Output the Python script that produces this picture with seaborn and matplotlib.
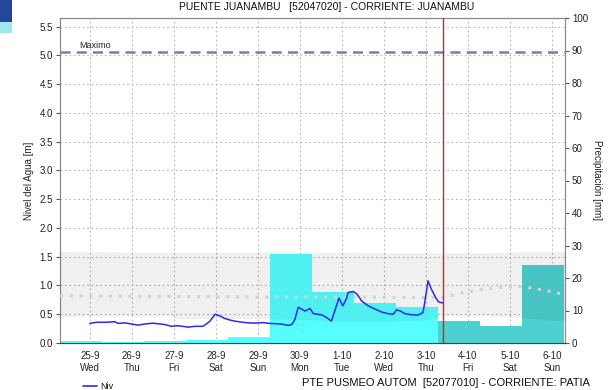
import numpy as np
import matplotlib
matplotlib.use("Agg")
import matplotlib.pyplot as plt
import seaborn as sns
from matplotlib.patches import Rectangle

sns.set_style("white")
plt.rcParams["font.family"] = ["Liberation Sans", "DejaVu Sans"]

# ---- data (x in days since 25-9 00:00) ----
day_labels = ["25-9", "26-9", "27-9", "28-9", "29-9", "30-9",
              "1-10", "2-10", "3-10", "4-10", "5-10", "6-10"]
weekdays = ["Wed", "Thu", "Fri", "Sat", "Sun", "Mon",
            "Tue", "Wed", "Thu", "Fri", "Sat", "Sun"]

# daily rainfall [mm], each window 07:00 -> 07:00
rain_obs_center = [-0.21, 0.79, 1.79, 2.79, 3.79, 4.79, 5.79, 6.79, 7.79]
rain_obs = [0.6, 0.4, 0.5, 1.0, 1.8, 27.4, 15.8, 12.4, 11.2]
rain_fc_center = [8.79, 9.79, 10.79]
rain_fc = [6.9, 5.3, 24.1]

# observed water level [m]
level_t = [0.00, 0.15, 0.40, 0.60, 0.67, 0.83, 1.00, 1.14, 1.31, 1.50, 1.79,
           1.94, 2.10, 2.26, 2.33, 2.50, 2.69, 2.77, 2.86, 2.98, 3.10, 3.20,
           3.33, 3.45, 3.69, 3.93, 4.12, 4.29, 4.57, 4.68, 4.76, 4.82, 4.88,
           4.96, 5.04, 5.12, 5.24, 5.32, 5.52, 5.64, 5.75, 5.83, 5.93, 6.02,
           6.10, 6.15, 6.27, 6.36, 6.47, 6.63, 6.79, 6.94, 7.10, 7.22, 7.30,
           7.38, 7.50, 7.66, 7.81, 7.93, 7.97, 8.05, 8.13, 8.21, 8.29, 8.37,
           8.41]
level_m = [0.34, 0.36, 0.36, 0.37, 0.34, 0.35, 0.33, 0.31, 0.33, 0.345, 0.32,
           0.29, 0.30, 0.285, 0.275, 0.29, 0.29, 0.33, 0.38, 0.50, 0.47, 0.43,
           0.40, 0.38, 0.355, 0.345, 0.355, 0.34, 0.33, 0.31, 0.31, 0.33, 0.41,
           0.62, 0.59, 0.555, 0.60, 0.51, 0.49, 0.44, 0.38, 0.56, 0.78, 0.645,
           0.76, 0.88, 0.895, 0.85, 0.73, 0.645, 0.59, 0.54, 0.51, 0.50, 0.575,
           0.56, 0.51, 0.49, 0.485, 0.53, 0.70, 1.08, 0.935, 0.82, 0.72, 0.70,
           0.70]

# historical mean level [m]
mean_t = [-0.71, 2.0, 4.0, 6.0, 8.0, 8.4, 8.9, 9.4, 10.0, 10.3, 10.8, 11.31]
mean_m = [0.82, 0.81, 0.80, 0.80, 0.79, 0.79, 0.88, 0.94, 0.98, 0.98, 0.92, 0.84]

# historical normal range [m]
band_t = [-0.71, 0.0, 1.0, 1.9, 2.0, 3.0, 4.0, 5.0, 6.0, 7.0, 8.0, 8.4,
          9.5, 10.3, 11.31]
band_lo = [0.45, 0.47, 0.47, 0.47, 0.42, 0.42, 0.42, 0.41, 0.38, 0.38, 0.40,
           0.47, 0.47, 0.44, 0.38]
band_hi = [1.60, 1.59, 1.58, 1.58, 1.58, 1.58, 1.58, 1.58, 1.58, 1.57, 1.57,
           1.57, 1.57, 1.59, 1.60]

level_max = 5.06
now_t = 8.40

# ---- figure ----
fig = plt.figure(figsize=(6.14, 3.90), dpi=100)
ax = fig.add_axes([60 / 614, 47 / 390, 505 / 614, 325 / 390])
ax2 = ax.twinx()   # rainfall
ax3 = ax.twinx()   # level overlay

x_lim = (-0.71, 11.31)
y_lim = (0, 5.65)

# rainfall bars
sns.barplot(x=rain_obs_center, y=rain_obs, native_scale=True, width=1.0,
            color="#55ffff", saturation=1, linewidth=0, ax=ax2, zorder=1)
sns.barplot(x=rain_fc_center, y=rain_fc, native_scale=True, width=1.0,
            color="#4dd0d0", saturation=1, linewidth=0, ax=ax2, zorder=1)

# level overlay
ax3.fill_between(band_t, band_lo, band_hi, color="black", alpha=0.059,
                 linewidth=0, zorder=1)
sns.lineplot(x=mean_t, y=mean_m, ax=ax3, color="#d2d2d2", lw=2.2,
             linestyle=(0, (1, 2.2)), zorder=2)
sns.lineplot(x=level_t, y=level_m, ax=ax3, color="#2b2bea", lw=1.1, zorder=3)
ax3.axhline(level_max, color="#7080b0", lw=1.8, ls=(0, (4, 2.5)), zorder=3)
ax3.text(-0.24, level_max + 0.03, "Maximo", fontsize=6.5, ha="left",
         va="bottom", color="#222222")
ax3.axvline(now_t, color="#e02020", lw=1.0, zorder=4)

# axes ranges
for a in (ax, ax2, ax3):
    a.set_xlim(*x_lim)
ax.set_ylim(*y_lim)
ax3.set_ylim(*y_lim)
ax2.set_ylim(0, 100)

# left axis
ax.set_yticks(np.arange(0, 5.51, 0.5))
ax.set_yticklabels([f"{v:.1f}" for v in np.arange(0, 5.51, 0.5)], fontsize=7)
ax.set_xticks(range(len(day_labels)))
ax.set_xticklabels([f"{d}\n{w}" for d, w in zip(day_labels, weekdays)],
                   fontsize=7, linespacing=1.25)
ax.set_xticks(np.arange(-0.71, 11.31, 1 / 12), minor=True)
ax.tick_params(axis="x", which="major", length=3, pad=3, color="#555555")
ax.tick_params(axis="x", which="minor", length=1.5, color="#555555")
ax.tick_params(axis="y", length=3, pad=2, color="#555555", labelcolor="#222222")
ax.grid(True, which="major", ls=(0, (1.5, 2.5)), color="#b8b8b8", lw=0.8)
ax.set_ylabel("Nivel del Agua [m]", fontsize=7, labelpad=4)
ax.set_xlabel("")

# right axis
ax2.set_yticks(range(0, 101, 10))
ax2.set_yticklabels([str(v) for v in range(0, 101, 10)], fontsize=7)
ax2.tick_params(axis="y", length=3, pad=2, color="#555555", labelcolor="#222222")
ax2.set_ylabel("Precipitación [mm]", fontsize=7, rotation=270, labelpad=10)
ax2.set_xlabel("")

ax3.set_axis_off()

for a in (ax, ax2):
    for s in ("left", "right", "top"):
        a.spines[s].set_color("#8a8a8a")
        a.spines[s].set_linewidth(0.8)
    a.spines["bottom"].set_color("#444444")

# titles
fig.text(327 / 614, 1 - 7 / 390, "PUENTE JUANAMBU   [52047020] - CORRIENTE: JUANAMBU",
         fontsize=7.5, ha="center", va="center", color="#111111")
fig.text(302 / 614, 1 - 383 / 390, "PTE PUSMEO AUTOM  [52077010] - CORRIENTE: PATIA",
         fontsize=8, ha="left", va="center", color="#111111")

# legend entry
fig.lines.append(plt.Line2D([83 / 614, 97 / 614], [1 - 386 / 390, 1 - 386 / 390],
                            transform=fig.transFigure, color="#2b2bea", lw=1.2))
fig.text(100 / 614, 1 - 382 / 390, "Niv", fontsize=6.5, ha="left", va="top",
         color="#111111")

# corner badge
fig.patches.append(Rectangle((0, 1 - 22 / 390), 12 / 614, 22 / 390,
                             transform=fig.transFigure, color="#25479a", lw=0))
fig.patches.append(Rectangle((0, 1 - 33 / 390), 12 / 614, 11 / 390,
                             transform=fig.transFigure, color="#9fe6f0", lw=0))

fig.savefig("out.png", dpi=100)
